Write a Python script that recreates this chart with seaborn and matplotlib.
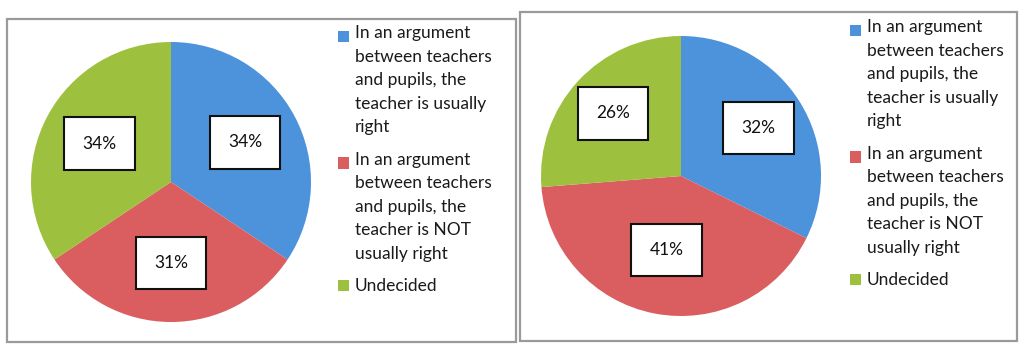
import matplotlib
matplotlib.use("Agg")
import matplotlib.pyplot as plt
from matplotlib.patches import Rectangle
import seaborn as sns

# Survey answers, two groups of respondents
categories = [
    "In an argument\nbetween teachers\nand pupils, the\nteacher is usually\nright",
    "In an argument\nbetween teachers\nand pupils, the\nteacher is NOT\nusually right",
    "Undecided",
]
group_a = [34, 31, 34]
group_b = [32, 41, 26]
colors = ["#4C93DB", "#DA5E5F", "#9DC13F"]

sns.set_theme(style="white")
plt.rcParams["font.family"] = ["Lato", "DejaVu Sans"]

W, H, DPI = 1019, 345, 100
fig = plt.figure(figsize=(W / DPI, H / DPI), dpi=DPI)
fig.patch.set_facecolor("white")


def px_box(x0, y0, x1, y1):
    """Figure-fraction rectangle from pixel corners (top-left origin)."""
    return [x0 / W, 1 - y1 / H, (x1 - x0) / W, (y1 - y0) / H]


# panel frames
for (x0, y0, x1, y1) in [(7, 19, 516, 342), (520, 12, 1017, 341)]:
    l, b, w, h = px_box(x0, y0, x1, y1)
    fig.add_artist(Rectangle((l, b), w, h, transform=fig.transFigure,
                             fill=False, edgecolor="#9a9a9a", linewidth=1.6))

# pie centre (px), legend anchor (px), radial placement of each value label
panels = [
    (group_a, (171, 182), (338, 25), [0.60, 0.58, 0.58]),
    (group_b, (681, 176), (850, 19), [0.65, 0.54, 0.66]),
]
R = 140
legends = []
for values, (cx, cy), (lx, ly), label_r in panels:
    ax = fig.add_axes(px_box(cx - R, cy - R, cx + R, cy + R))
    wedges, _, autotexts = ax.pie(
        values, colors=colors, startangle=90, counterclock=False,
        autopct=lambda p: f"{p * sum(values) / 100:.0f}%", pctdistance=1.0,
        wedgeprops=dict(linewidth=0),
        textprops=dict(fontsize=12.5, color="#111111"),
    )
    for t, r in zip(autotexts, label_r):
        x, y = t.get_position()
        t.set_position((x * r, y * r))
        t.set_bbox(dict(boxstyle="square,pad=1.05", facecolor="white",
                        edgecolor="#111111", linewidth=1.5))
    ax.set_xlim(-1, 1)
    ax.set_ylim(-1, 1)
    ax.set_aspect("equal")
    ax.axis("off")

    leg = fig.legend(
        wedges, categories, loc="upper left",
        bbox_to_anchor=(lx / W, 1 - ly / H), bbox_transform=fig.transFigure,
        frameon=False, borderpad=0, borderaxespad=0,
        prop=dict(size=12.5),
        handlelength=0.62, handleheight=0.62, handletextpad=0.35,
        labelspacing=0.95,
    )
    for t in leg.get_texts():
        t.set_linespacing(1.58)
        t.set_color("#1a1a1a")
    legends.append(leg)

# align each legend swatch with the first line of its label
fig.canvas.draw()
for leg in legends:
    for patch, text in zip(leg.get_patches(), leg.get_texts()):
        n = text.get_text().count("\n") + 1
        if n > 1:
            ext = text.get_window_extent()
            shift_px = ext.height * (n - 1) / (2 * n)
            patch.set_y(patch.get_y() + shift_px * 72 / DPI)

fig.savefig("out.png", dpi=DPI, facecolor="white")
